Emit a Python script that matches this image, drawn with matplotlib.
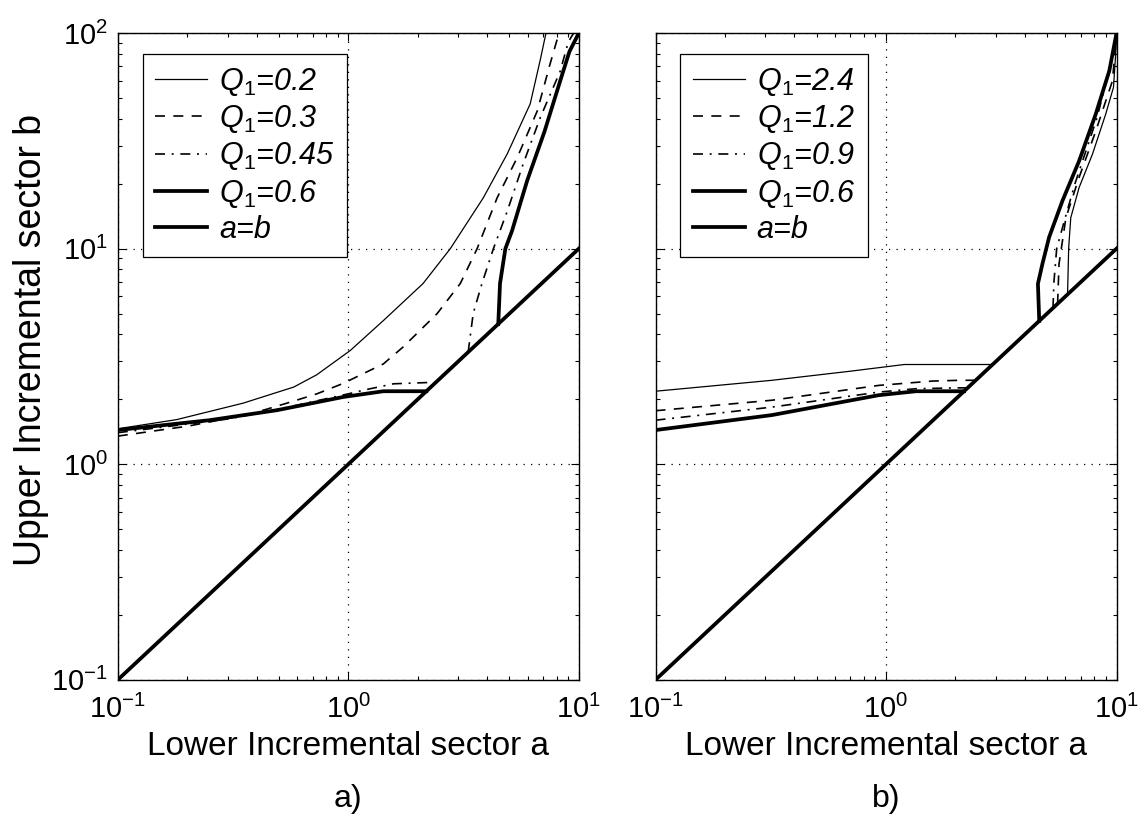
import numpy as np
import matplotlib
matplotlib.use("Agg")
import matplotlib.pyplot as plt
from matplotlib.ticker import LogLocator, NullFormatter

plt.rcParams['font.family'] = ['Liberation Sans', 'DejaVu Sans']
plt.rcParams['mathtext.fontset'] = 'custom'
plt.rcParams['mathtext.rm'] = 'Liberation Sans'
plt.rcParams['mathtext.it'] = 'Liberation Sans:italic'
plt.rcParams['mathtext.default'] = 'it'

# ---- panel a) ----
a_q02 = [0.1, 0.18, 0.35, 0.58, 0.73, 1.02, 1.42, 2.11, 2.77, 3.85, 4.89, 6.15, 6.8, 7.2]
b_q02 = [1.46, 1.61, 1.92, 2.28, 2.6, 3.37, 4.64, 6.89, 10, 17.2, 27.5, 46.9, 75, 100]

a_q03 = [0.1, 0.2, 0.37, 0.56, 0.73, 0.95, 1.16, 1.42, 1.73, 2.43, 3.06, 3.62, 4.42, 5.4, 6.6, 7.5, 8.2]
b_q03 = [1.35, 1.5, 1.7, 1.94, 2.12, 2.37, 2.63, 2.92, 3.5, 5.0, 6.89, 10, 17.2, 26.4, 43.5, 71.8, 100]

a_q045_lo = [0.1, 0.3, 0.5, 1.0, 1.2, 1.57, 2.4]
b_q045_lo = [1.40, 1.62, 1.8, 2.12, 2.22, 2.36, 2.4]
a_q045_hi = [3.31, 3.48, 3.8, 4.26, 4.9, 5.74, 6.8, 8.3, 9.0, 9.5]
b_q045_hi = [3.31, 5.0, 6.9, 10, 15, 24.8, 40.5, 66.5, 91, 100]

a_q06_lo = [0.1, 0.25, 0.49, 0.95, 1.42, 2.18]
b_q06_lo = [1.44, 1.6, 1.78, 2.05, 2.18, 2.18]
a_q06_hi = [4.47, 4.55, 4.8, 5.13, 5.97, 7.1, 8.3, 9.1, 10]
b_q06_hi = [4.47, 6.9, 10, 12.1, 20.7, 35, 60, 82, 100]

# ---- panel b) ----
a_q24_lo = [0.1, 0.32, 0.7, 1.2, 2.9]
b_q24_lo = [2.18, 2.45, 2.7, 2.9, 2.9]
a_q24_hi = [6.13, 6.2, 6.33, 6.88, 7.86, 8.97, 9.7, 9.95, 10]
b_q24_hi = [6.13, 10.1, 13.9, 19.2, 27.4, 42, 56, 85, 100]

a_q12_lo = [0.1, 0.32, 0.93, 1.59, 2.08, 2.45]
b_q12_lo = [1.77, 1.98, 2.32, 2.43, 2.45, 2.45]
a_q12_hi = [5.55, 5.63, 6.03, 6.88, 8.12, 9.6, 10]
b_q12_hi = [5.55, 8.5, 13.9, 21.4, 35, 60, 100]

a_q09_lo = [0.1, 0.32, 0.93, 1.35, 2.08, 2.26]
b_q09_lo = [1.6, 1.84, 2.16, 2.24, 2.26, 2.26]
a_q09_hi = [5.3, 5.35, 5.5, 6.0, 6.6, 8.2, 9.4, 10]
b_q09_hi = [5.3, 7.0, 10, 14, 20, 40, 70, 100]

a_r06_lo = [0.1, 0.32, 0.93, 1.35, 2.18]
b_r06_lo = [1.44, 1.69, 2.09, 2.18, 2.18]
a_r06_hi = [4.62, 4.56, 4.77, 5.1, 5.83, 6.88, 8.12, 9.3, 10]
b_r06_hi = [4.62, 6.87, 8.5, 11.3, 16.7, 25.5, 42, 66.7, 100]

diag = [0.1, 10]

labels_a = ['0.2', '0.3', '0.45', '0.6']
labels_b = ['2.4', '1.2', '0.9', '0.6']

styles = [dict(ls='-', lw=0.9), dict(ls=(0, (6, 5)), lw=1.2),
          dict(ls=(0, (6, 4, 1.2, 4)), lw=1.2), dict(ls='-', lw=2.7)]


def join(x1, y1, x2=None, y2=None):
    if x2 is None:
        return x1, y1
    return list(x1) + [np.nan] + list(x2), list(y1) + [np.nan] + list(y2)


def setup(ax, curves, labels, tag):
    for (x, y), st, q in zip(curves, styles, labels):
        ax.plot(x, y, color='k', label='Q$_1$=' + q, **st)
    ax.plot(diag, diag, color='k', lw=2.7, label='a=b')
    ax.set_xscale('log')
    ax.set_yscale('log')
    ax.set_xlim(0.1, 10)
    ax.set_ylim(0.1, 100)
    ax.grid(True, which='major', ls=(0, (1, 5)), color='k', lw=0.9)
    ax.xaxis.set_minor_locator(LogLocator(subs=np.arange(2, 10)))
    ax.yaxis.set_minor_locator(LogLocator(subs=np.arange(2, 10)))
    ax.xaxis.set_minor_formatter(NullFormatter())
    ax.yaxis.set_minor_formatter(NullFormatter())
    ax.tick_params(which='both', direction='in', top=True, right=True,
                   labelsize=21, width=0.8)
    ax.tick_params(which='major', length=6, pad=7)
    ax.tick_params(axis='x', which='major', pad=11)
    ax.tick_params(which='minor', length=3)
    for s in ax.spines.values():
        s.set_linewidth(1.0)
    ax.set_xlabel('Lower Incremental sector a', fontsize=24, labelpad=5)
    ax.text(0.5, -0.185, tag, transform=ax.transAxes, ha='center',
            va='center', fontsize=23)
    leg = ax.legend(loc='upper left', bbox_to_anchor=(0.054, 0.968),
                    borderaxespad=0, handlelength=1.7, handletextpad=0.4,
                    labelspacing=0.17, borderpad=0.4, fancybox=False,
                    framealpha=1, edgecolor='k',
                    prop={'style': 'italic', 'size': 22})
    leg.get_frame().set_linewidth(0.9)


fig = plt.figure(figsize=(11.44, 8.25), dpi=100)
ax1 = fig.add_axes([0.103, 0.176, 0.403, 0.784])
ax2 = fig.add_axes([0.573, 0.176, 0.403, 0.784])

curves_a = [join(a_q02, b_q02), join(a_q03, b_q03),
            join(a_q045_lo, b_q045_lo, a_q045_hi, b_q045_hi),
            join(a_q06_lo, b_q06_lo, a_q06_hi, b_q06_hi)]
curves_b = [join(a_q24_lo, b_q24_lo, a_q24_hi, b_q24_hi),
            join(a_q12_lo, b_q12_lo, a_q12_hi, b_q12_hi),
            join(a_q09_lo, b_q09_lo, a_q09_hi, b_q09_hi),
            join(a_r06_lo, b_r06_lo, a_r06_hi, b_r06_hi)]

setup(ax1, curves_a, labels_a, 'a)')
setup(ax2, curves_b, labels_b, 'b)')
ax1.set_ylabel('Upper Incremental sector b', fontsize=27)
ax1.yaxis.set_label_coords(-0.15, 0.525)
ax2.set_yticklabels([])

fig.savefig('out.png', dpi=100)
